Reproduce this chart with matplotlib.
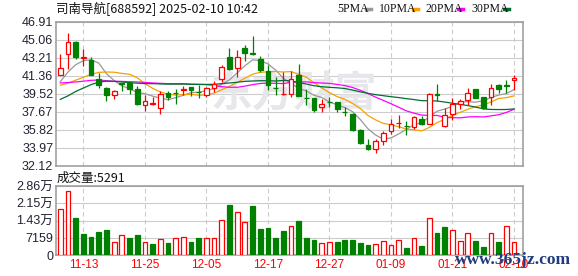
import matplotlib.pyplot as plt
from matplotlib.lines import Line2D
import numpy as np
import pandas as pd

# Data (60 trading days)
opens = [41.47, 43.62, 44.81, 43.20, 42.94, 41.06, 40.10, 39.39, 40.62, 40.62,
         40.00, 38.33, 38.50, 38.09, 39.59, 39.62, 39.90, 40.21, 39.72, 39.35,
         40.14, 40.99, 43.28, 42.15, 44.20, 43.64, 43.04, 41.81, 40.14, 39.45,
         39.52, 41.40, 39.10, 39.08, 38.16, 38.70, 38.67, 37.65, 37.48, 35.84,
         34.24, 33.89, 34.64, 35.67, 36.50, 36.25, 36.08, 36.97, 36.42, 39.45,
         36.22, 37.41, 38.43, 38.84, 39.97, 39.18, 39.18, 40.45, 40.40, 40.97]
closes = [42.15, 44.81, 43.28, 43.25, 41.47, 40.45, 39.42, 39.76, 40.51, 40.04,
          38.50, 38.77, 38.55, 39.52, 39.18, 39.55, 39.97, 39.93, 39.69, 40.10,
          40.55, 42.25, 42.08, 43.28, 43.72, 43.58, 41.91, 40.38, 40.10, 39.52,
          41.06, 39.29, 39.05, 37.82, 38.50, 38.65, 37.92, 37.60, 35.77, 34.51,
          33.89, 34.68, 35.50, 36.39, 36.55, 36.20, 37.17, 36.45, 39.45, 39.38,
          37.31, 38.50, 38.74, 39.59, 39.11, 38.06, 40.10, 40.04, 40.35, 41.15]
highs = [43.58, 45.73, 44.91, 44.06, 43.28, 41.67, 40.20, 39.93, 40.65, 40.72,
         40.30, 39.35, 39.18, 39.76, 39.76, 40.04, 40.27, 40.25, 40.38, 40.21,
         40.79, 42.49, 44.20, 43.96, 44.54, 45.43, 43.38, 42.49, 41.23, 41.74,
         41.81, 42.59, 40.04, 39.10, 38.94, 39.18, 38.70, 38.16, 37.50, 35.86,
         34.85, 34.85, 35.70, 36.97, 37.31, 36.69, 37.24, 37.24, 39.60, 40.55,
         38.06, 39.08, 38.94, 40.10, 40.00, 39.20, 40.55, 40.48, 40.89, 41.47]
lows = [41.40, 42.08, 43.11, 42.32, 41.40, 40.14, 38.77, 39.01, 39.76, 39.52,
        38.40, 37.78, 38.40, 37.48, 38.84, 38.50, 39.42, 39.29, 39.08, 39.18,
        39.69, 40.72, 41.98, 41.23, 42.83, 43.45, 41.74, 39.86, 39.35, 39.40,
        39.18, 39.25, 38.40, 37.65, 37.65, 38.16, 37.65, 37.24, 35.67, 34.41,
        33.79, 33.49, 34.30, 35.43, 36.01, 35.33, 35.94, 36.28, 36.40, 38.74,
        36.11, 36.79, 37.92, 38.40, 39.10, 37.92, 38.40, 39.59, 39.62, 39.87]
volumes = [19000, 26440, 15420, 8810, 7570, 9640, 10470, 5510, 8260, 7160,
           8400, 5510, 4680, 6610, 5090, 7020, 7440, 5510, 7160, 7020,
           7020, 14460, 20790, 17760, 13630, 20380, 10880, 11290, 7160, 10050,
           11980, 14180, 7160, 6330, 4960, 5510, 5510, 6330, 6330, 5090,
           4270, 4540, 5780, 4130, 6200, 3030, 7020, 3860, 15280, 9230,
           11700, 10470, 5780, 9090, 5920, 3440, 9090, 5650, 12120, 5291]

# moving-average values before enough history is visible
ma5_head = [40.75, 41.74, 42.49, 42.90]
ma10_head = [40.38, 40.60, 40.90, 41.20, 41.50, 41.70, 41.74, 41.72, 41.60]
ma20_head = [40.62, 40.66, 40.72, 40.80, 40.89, 40.92, 40.85, 40.80, 40.78, 40.75,
             40.72, 40.68, 40.62, 40.58, 40.55, 40.55, 40.55, 40.50, 40.48]
ma30_head = [38.94, 39.30, 39.75, 40.10, 40.45, 40.70, 40.80, 40.78, 40.72, 40.65,
             40.60, 40.55, 40.55, 40.52, 40.50, 40.50, 40.50, 40.48, 40.47, 40.47,
             40.48, 40.55, 40.62, 40.70, 40.78, 40.82, 40.85, 40.85, 40.82]

date_labels = ['11-13', '11-25', '12-05', '12-17', '12-27', '01-09', '01-21', '02-10']
date_pos = [3, 11, 19, 27, 35, 43, 51, 59]
price_ticks = ['46.91', '45.06', '43.21', '41.36', '39.52', '37.67', '35.82', '33.97', '32.12']
vol_ticks = ['2.86万', '2.15万', '1.43万', '7159', '0']
vol_tick_values = [28636, 21477, 14318, 7159, 0]

RED = '#ff0000'
GREEN = '#008000'
GRID = '#cccccc'
FRAME = '#999999'
TXT = '#222233'

o, c, h, l = map(np.array, (opens, closes, highs, lows))
x = np.arange(len(closes))

mas = []
for n, head in [(5, ma5_head), (10, ma10_head), (20, ma20_head), (30, ma30_head)]:
    s = pd.Series(closes).rolling(n).mean().to_numpy()
    s[:n - 1] = head
    mas.append(s)
ma_names = ['5PMA', '10PMA', '20PMA', '30PMA']
ma_colors = ['#999999', '#f5a200', '#ff00ff', '#006f30']

fig = plt.figure(figsize=(5.78, 2.76), dpi=100)
W, H = 578, 276
ax = fig.add_axes([56 / W, 1 - 166 / H, 467 / W, 144.5 / H])
axv = fig.add_axes([56 / W, 1 - 255.3 / H, 467 / W, 69.3 / H])

for a in (ax, axv):
    a.set_xlim(-0.56, 60.17)
    for sp in a.spines.values():
        sp.set_color(FRAME)
        sp.set_linewidth(1.1)
    a.tick_params(length=0, pad=2, labelsize=9, colors=TXT)
    a.set_xticks(date_pos)
    for p in date_pos:
        a.axvline(p, color=GRID, lw=0.8, ls=(0, (4, 3)), zorder=0)

# price panel
ax.set_ylim(32.12, 46.91)
pvals = [float(t) for t in price_ticks]
ax.set_yticks(pvals)
ax.set_yticklabels(price_ticks, family='Liberation Sans')
for v in pvals:
    ax.axhline(v, color=GRID, lw=0.8, zorder=0)
ax.set_xticklabels([])
ax.text(0.51, 0.5, '东方财富', transform=ax.transAxes, ha='center', va='center',
        fontsize=30, weight='bold', color='#e6e6eb', family='Noto Sans CJK SC', zorder=0.5)

up = c >= o
col = np.where(up, RED, GREEN)
ax.vlines(x, l, h, colors=col, lw=0.9, zorder=3)
body_lo = np.minimum(o, c)
body_h = np.maximum(np.abs(c - o), 0.04)
ax.bar(x, body_h, bottom=body_lo, width=0.62, color=np.where(up, 'white', GREEN),
       edgecolor=col, linewidth=0.9, zorder=4)
for s, clr in zip(mas, ma_colors):
    ax.plot(x, s, color=clr, lw=0.9, zorder=2)

# volume panel
vol_up = np.r_[True, np.diff(c) >= 0]
vcol = np.where(vol_up, RED, GREEN)
axv.bar(x, volumes, width=0.62, color=np.where(vol_up, 'white', GREEN),
        edgecolor=vcol, linewidth=0.9, zorder=3)
axv.set_ylim(0, 28636)
axv.set_yticks(vol_tick_values)
axv.set_yticklabels(vol_ticks, family=['Liberation Sans', 'Noto Sans CJK SC'])
for v in vol_tick_values:
    axv.axhline(v, color=GRID, lw=0.8, zorder=0)
axv.set_xticklabels(date_labels, color=RED, fontsize=8.5, family='Liberation Sans')
axv.tick_params(axis='x', pad=3)

# titles and legend
fig.text(56 / W, 1 - 9 / H, '司南导航[688592] 2025-02-10 10:42', fontsize=9,
         family=['Noto Sans CJK SC', 'DejaVu Sans'], va='center', color='#111111')
fig.text(57 / W, 1 - 178 / H, '成交量:5291', fontsize=9,
         family=['Noto Sans CJK SC', 'DejaVu Sans'], va='center', color='#111111')
label_x = [337, 379, 425, 471]
dash_x = [365, 412, 457, 503]
for name, clr, lx, dx in zip(ma_names, ma_colors, label_x, dash_x):
    fig.text(lx / W, 1 - 9 / H, name, fontsize=8.5, family='Liberation Serif', va='center', color='#111111')
    fig.add_artist(Line2D([(dx + 1) / W, (dx + 6) / W], [1 - 9 / H, 1 - 9 / H], color=clr, lw=2.5))

fig.text(455 / W, 1 - 260 / H, 'www.365jz.com', fontsize=12.5, family='Liberation Serif',
         weight='bold', color='#1f3c7e', va='center')

fig.savefig('out.png', dpi=100)
